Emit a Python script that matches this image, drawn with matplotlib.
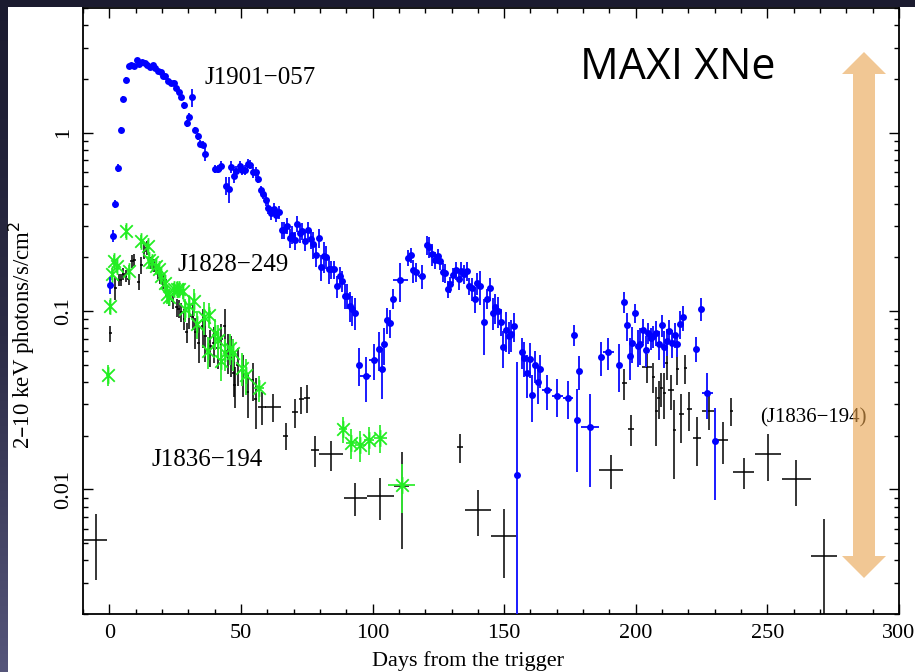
import numpy as np
import matplotlib
matplotlib.use("Agg")
import matplotlib.pyplot as plt
from matplotlib.path import Path
from matplotlib.patches import Rectangle, Polygon
from matplotlib.colors import LinearSegmentedColormap
from matplotlib.ticker import MultipleLocator, LogLocator, NullFormatter, FixedLocator, FixedFormatter

# ---------------- light-curve data (2-10 keV photons/s/cm^2) ----------------
# MAXI J1901-057
j1901_day = [0.3, 1.3, 2.3, 3.4, 4.4, 5.3, 6.3, 7.4, 8.4, 9.4, 10.4, 11.4, 12.4, 13.4, 14.5,
             15.5, 16.5, 17.5, 18.5, 19.5, 20.3, 21.3, 22.3, 23.3, 24.4, 25.4, 26.4, 27.4, 28.4,
             29.4, 30.4, 31.5, 32.5, 33.5, 34.5, 35.5, 36.5, 40.3, 41.4, 42.5, 44.4, 45.4, 46.4,
             47.4, 48.2, 49.5, 50.5, 51.5, 52.5, 53.5, 54.5, 55.6, 56.6, 57.6, 58.3, 59.4, 60.4,
             61.5, 62.4, 63.4, 64.4, 65.6, 66.5, 67.5, 68.5, 69.4, 70.4, 71.4, 72.3, 73.3, 74.3,
             75.5, 76.5, 77.4, 78.5, 79.5, 80.4, 81.4, 82.5, 83.4, 84.4, 85.3, 86.5, 87.5, 88.5,
             89.5, 90.4, 91.3, 92.3, 93.3, 94.9, 97.4, 100.6, 102.5, 103.6, 104.5, 105.5, 106.5,
             107.6, 110.6, 113.5, 114.5, 115.5, 116.6, 118.6, 120.6, 121.6, 122.6, 123.7, 124.7,
             125.6, 126.6, 127.6, 128.6, 129.6, 130.6, 131.7, 132.7, 133.7, 134.7, 135.7, 136.7,
             137.7, 138.8, 139.6, 140.7, 142.2, 143.6, 144.6, 145.6, 146.6, 147.6, 148.7, 149.7,
             150.7, 151.7, 152.7, 153.7, 155.0, 156.6, 157.7, 158.7, 159.7, 160.7, 161.7, 162.7,
             163.7, 166.2, 170.2, 174.2, 176.7, 177.7, 178.6, 182.6, 186.6, 189.6, 193.7, 195.7,
             196.7, 197.7, 198.7, 199.8, 200.7, 201.7, 202.7, 203.7, 204.7, 205.7, 206.7, 207.8,
             208.8, 209.8, 210.8, 211.8, 212.8, 213.9, 214.9, 215.8, 216.8, 217.8, 222.7, 224.8,
             227.2, 230.2]
j1901_flux = [0.14, 0.265, 0.40, 0.634, 1.04, 1.55, 1.98, 2.35, 2.40, 2.37, 2.56, 2.44, 2.50, 2.46, 2.40,
              2.33, 2.40, 2.30, 2.23, 2.18, 2.07, 2.08, 1.94, 1.91, 1.91, 1.78, 1.68, 1.58, 1.42,
              1.13, 1.23, 1.58, 1.03, 0.953, 0.867, 0.857, 0.762, 0.626, 0.626, 0.653, 0.505, 0.484, 0.642,
              0.574, 0.607, 0.653, 0.620, 0.620, 0.670, 0.662, 0.60, 0.60, 0.55, 0.475, 0.455, 0.418, 0.379,
              0.355, 0.374, 0.347, 0.358, 0.284, 0.284, 0.301, 0.257, 0.268, 0.249, 0.309, 0.272, 0.28, 0.246,
              0.284, 0.254, 0.236, 0.207, 0.257, 0.177, 0.203, 0.202, 0.172, 0.171, 0.171, 0.138, 0.157, 0.147,
              0.122, 0.122, 0.107, 0.102, 0.098, 0.050, 0.043, 0.053, 0.061, 0.047, 0.065, 0.0895, 0.086,
              0.117, 0.149, 0.199, 0.205, 0.169, 0.165, 0.157, 0.235, 0.229, 0.209, 0.193, 0.203,
              0.19, 0.166, 0.164, 0.133, 0.141, 0.159, 0.169, 0.151, 0.168, 0.162, 0.168, 0.138,
              0.134, 0.117, 0.143, 0.138, 0.0866, 0.117, 0.134, 0.098, 0.105, 0.100, 0.087, 0.0627,
              0.0787, 0.0722, 0.074, 0.0822, 0.012, 0.059, 0.0547, 0.0447, 0.054, 0.034, 0.0497, 0.040,
              0.047, 0.036, 0.0333, 0.0327, 0.0738, 0.0245, 0.046, 0.0223, 0.0551, 0.0588, 0.050, 0.113,
              0.083, 0.0558, 0.0664, 0.0977, 0.0635, 0.065, 0.078, 0.0603, 0.0755, 0.0708, 0.0722, 0.0755,
              0.065, 0.0832, 0.0627, 0.0677, 0.077, 0.0664, 0.0738, 0.065, 0.085, 0.0923, 0.0616, 0.103,
              0.0348, 0.0187]
j1901_err = [0.015, 0.02, 0.02, 0.03, 0.04, 0.05, 0.06, 0.06, 0.06, 0.06, 0.07, 0.07, 0.07, 0.07, 0.07,
             0.07, 0.07, 0.07, 0.07, 0.07, 0.06, 0.06, 0.06, 0.06, 0.06, 0.06, 0.06, 0.06, 0.06,
             0.05, 0.06, 0.18, 0.04, 0.04, 0.04, 0.04, 0.07, 0.03, 0.03, 0.04, 0.06, 0.08, 0.05,
             0.05, 0.04, 0.04, 0.04, 0.04, 0.04, 0.04, 0.04, 0.04, 0.03, 0.03, 0.03, 0.03, 0.03,
             0.03, 0.03, 0.03, 0.03, 0.03, 0.03, 0.03, 0.03, 0.03, 0.03, 0.03, 0.03, 0.03, 0.03,
             0.03, 0.03, 0.04, 0.03, 0.03, 0.03, 0.04, 0.03, 0.03, 0.02, 0.02, 0.02, 0.02, 0.02,
             0.02, 0.02, 0.02, 0.02, 0.02, 0.012, 0.012, 0.012, 0.015, 0.015, 0.015, 0.015, 0.015,
             0.015, 0.037, 0.02, 0.02, 0.025, 0.02, 0.025, 0.03, 0.03, 0.03, 0.02, 0.02,
             0.02, 0.02, 0.02, 0.015, 0.015, 0.015, 0.02, 0.02, 0.02, 0.02, 0.02, 0.015,
             0.02, 0.02, 0.02, 0.03, 0.03, 0.015, 0.02, 0.02, 0.02, 0.02, 0.015, 0.015,
             0.02, 0.015, 0.015, 0.015, 0.040, 0.012, 0.012, 0.012, 0.012, 0.01, 0.01, 0.01,
             0.01, 0.008, 0.008, 0.008, 0.01, 0.012, 0.01, 0.012, 0.012, 0.012, 0.015, 0.015,
             0.015, 0.015, 0.015, 0.012, 0.015, 0.015, 0.012, 0.012, 0.01, 0.01, 0.01, 0.012,
             0.012, 0.012, 0.015, 0.012, 0.012, 0.012, 0.012, 0.01, 0.015, 0.015, 0.01, 0.015,
             0.01, 0.01]
# half-widths of the longer time bins (days); all others are 0.5 d
j1901_binned = {97.4: 2.0, 100.6: 2.0, 110.6: 2.7, 118.6: 1.5, 166.2: 2.0, 170.2: 2.0,
                174.2: 2.0, 182.6: 3.5, 189.6: 2.0, 193.7: 1.0, 227.2: 2.0}

# MAXI J1828-249
j1828_day = [-0.6, 0.4, 1.0, 1.9, 2.8, 6.3, 7.4, 12.0, 14.6, 15.0, 16.2, 17.8, 18.8, 19.7, 21.0,
             21.8, 22.8, 24.4, 25.6, 26.6, 27.9, 28.9, 30.4, 32.0, 33.2, 36.1, 37.4, 38.0, 40.3,
             41.2, 42.5, 43.8, 45.7, 46.9, 50.5, 51.8, 56.8, 88.8, 92.0, 95.4, 98.6, 103.0, 111.0]
j1828_flux = [0.044, 0.106, 0.162, 0.19, 0.178, 0.28, 0.167, 0.246, 0.231, 0.193, 0.188, 0.178, 0.171,
              0.157, 0.144, 0.124, 0.12, 0.132, 0.133, 0.132, 0.129, 0.102, 0.106, 0.1135, 0.085, 0.093,
              0.0595, 0.0955, 0.0755, 0.069, 0.0523, 0.058, 0.062, 0.058, 0.048, 0.044, 0.037, 0.0219,
              0.0183, 0.0177, 0.019, 0.0195, 0.0106]
j1828_err = [0.006, 0.01, 0.012, 0.015, 0.015, 0.025, 0.015, 0.02, 0.02, 0.02, 0.015, 0.015, 0.015,
             0.015, 0.015, 0.015, 0.012, 0.012, 0.012, 0.012, 0.012, 0.015, 0.015, 0.02, 0.015, 0.02,
             0.012, 0.015, 0.015, 0.015, 0.012, 0.012, 0.012, 0.012, 0.01, 0.01, 0.006, 0.0037,
             0.0035, 0.0035, 0.0035, 0.0035, 0.0032]
j1828_binned = {56.8: 2.0, 88.8: 1.5, 92.0: 2.0, 95.4: 2.0, 98.6: 2.0, 103.0: 2.5, 111.0: 5.0}

# MAXI J1836-194
j1836_day = [-5.2, 0.4, 2.3, 3.5, 4.4, 5.3, 6.3, 7.4, 8.6, 9.5, 11.2, 12.1, 13.3, 14.2, 15.9, 17.1,
             18.4, 19.3, 20.5, 21.6, 22.8, 24.1, 25.6, 26.4, 27.3, 28.5, 29.4, 30.4, 31.7, 32.7, 34.0,
             35.5, 36.5, 38.3, 39.6, 41.2, 42.5, 43.8, 45.0, 46.3, 47.2, 47.6, 48.8, 50.7, 52.6, 54.5,
             55.6, 58.1, 62.1, 67.0, 70.5, 72.9, 75.1, 78.0, 84.3, 93.5, 103.0, 111.0, 133.2, 140.1,
             150.0, 190.6, 195.7, 198.2, 204.2, 206.7, 207.8, 208.7, 209.7, 210.8, 211.7, 213.4,
             214.7, 215.8, 217.3, 218.8, 220.3, 223.2, 227.8, 233.0, 236.3, 241.0, 250.3, 261.0,
             271.4]
j1836_flux = [0.0052, 0.0748, 0.135, 0.15, 0.15, 0.162, 0.157, 0.151, 0.19, 0.194, 0.146, 0.182, 0.216,
              0.226, 0.186, 0.18, 0.167, 0.157, 0.147, 0.136, 0.119, 0.114, 0.105, 0.103, 0.0986, 0.0902,
              0.0761, 0.094, 0.093, 0.076, 0.066, 0.082, 0.072, 0.0635, 0.066, 0.062, 0.0699, 0.082,
              0.0595, 0.0577, 0.045, 0.0385, 0.05, 0.045, 0.035, 0.0412, 0.0319, 0.029, 0.029, 0.020,
              0.0271, 0.0319, 0.0327, 0.0166, 0.0157, 0.00898, 0.00917, 0.0104, 0.0173, 0.0077,
              0.0055, 0.0128, 0.0396, 0.0218, 0.0487, 0.0428, 0.0275, 0.0327, 0.037, 0.0349, 0.0508,
              0.0359, 0.0215, 0.0474, 0.0263, 0.048, 0.0283, 0.0195, 0.0275, 0.0189, 0.0276, 0.0125,
              0.0158, 0.0114, 0.00423]
j1836_err = [0.0021, 0.008, 0.02, 0.012, 0.012, 0.012, 0.012, 0.012, 0.015, 0.015, 0.015, 0.02, 0.02,
             0.02, 0.015, 0.015, 0.015, 0.015, 0.015, 0.015, 0.012, 0.012, 0.012, 0.012, 0.012, 0.012,
             0.01, 0.015, 0.015, 0.015, 0.015, 0.02, 0.02, 0.015, 0.015, 0.015, 0.015, 0.02,
             0.015, 0.015, 0.012, 0.01, 0.012, 0.012, 0.01, 0.01, 0.01, 0.006, 0.0052, 0.0034,
             0.005, 0.0055, 0.006, 0.0033, 0.003, 0.0019, 0.0024, 0.0058, 0.0032, 0.0022,
             0.0023, 0.0027, 0.0078, 0.0043, 0.009, 0.008, 0.01, 0.008, 0.008, 0.01, 0.01,
             0.008, 0.01, 0.009, 0.008, 0.009, 0.007, 0.006, 0.006, 0.005, 0.005, 0.0024,
             0.0046, 0.0033, 0.0026]
j1836_binned = {-5.2: 4.5, 58.1: 1.5, 62.1: 3.0, 67.0: 1.0, 70.5: 1.0, 72.9: 1.0, 75.1: 1.0,
                78.0: 1.5, 84.3: 4.5, 93.5: 4.4, 103.0: 5.0, 111.0: 3.0, 133.2: 1.0, 140.1: 5.0,
                150.0: 5.0, 190.6: 4.5, 195.7: 1.0, 198.2: 1.3, 204.2: 2.0, 213.4: 1.0, 217.3: 1.0,
                220.3: 1.0, 223.2: 1.5, 227.8: 2.5, 233.0: 2.0, 241.0: 4.0, 250.3: 5.0, 261.0: 5.5,
                271.4: 5.0}

source_names = ["J1901\u2212057", "J1828\u2212249", "J1836\u2212194"]

j1901_dx = [j1901_binned.get(d, 0.5) for d in j1901_day]
j1828_dx = [j1828_binned.get(d, 0.5) for d in j1828_day]
j1836_dx = [j1836_binned.get(d, 0.6) for d in j1836_day]

# ---------------- figure ----------------
W, H = 915, 672
fig = plt.figure(figsize=(W / 100, H / 100), dpi=100, facecolor="#1b1b2f")

# dark frame: gradient strip on the left, white page behind the plot
edge = fig.add_axes([0, 0, 8 / W, 1])
edge.imshow(np.linspace(0, 1, 256).reshape(-1, 1), aspect="auto", origin="upper",
            extent=[0, 1, 0, 1],
            cmap=LinearSegmentedColormap.from_list("edge", ["#1b1b2f", "#2c2c46", "#55557a"]))
edge.axis("off")
fig.add_artist(Rectangle((8 / W, 0), 1 - 8 / W, 1 - 7 / H, transform=fig.transFigure,
                         facecolor="white", edgecolor="none", zorder=0))

ax = fig.add_axes([83 / W, 58 / H, 816 / W, 606 / H])
ax.set_facecolor("white")
ax.set_zorder(1)

serif = ["Liberation Serif", "DejaVu Serif"]

# asterisk marker: vertical bar plus two diagonals
star = Path([(0, -1), (0, 1), (-0.75, -0.75), (0.75, 0.75), (-0.75, 0.75), (0.75, -0.75)],
            [Path.MOVETO, Path.LINETO] * 3)

ax.errorbar(j1836_day, j1836_flux, yerr=j1836_err, xerr=j1836_dx, fmt="none",
            ecolor="black", elinewidth=1.1, capsize=0, zorder=2)
ax.errorbar(j1828_day, j1828_flux, yerr=j1828_err, xerr=j1828_dx, fmt="none",
            ecolor="#33ee33", elinewidth=1.3, capsize=0, zorder=3)
ax.plot(j1828_day, j1828_flux, linestyle="none", marker=star, markersize=12,
        markeredgecolor="#22ee22", markerfacecolor="none", markeredgewidth=1.3, zorder=3)
ax.errorbar(j1901_day, j1901_flux, yerr=j1901_err, xerr=j1901_dx, fmt="o",
            color="#0000ff", ecolor="#1a1aff", elinewidth=1.4, capsize=0,
            markersize=5, markeredgewidth=0, zorder=4)

ax.set_yscale("log")
ax.set_xlim(-10, 300)
ax.set_ylim(0.002, 5)

ax.xaxis.set_major_locator(MultipleLocator(50))
ax.xaxis.set_minor_locator(MultipleLocator(10))
ax.yaxis.set_major_locator(FixedLocator([0.01, 0.1, 1]))
ax.yaxis.set_major_formatter(FixedFormatter(["0.01", "0.1", "1"]))
ax.yaxis.set_minor_locator(LogLocator(base=10, subs=np.arange(2, 10), numticks=20))
ax.yaxis.set_minor_formatter(NullFormatter())

ax.tick_params(which="both", direction="in", top=True, right=True, width=1.0, color="black")
ax.tick_params(which="major", length=7.5)
ax.tick_params(which="minor", length=3.8)
ax.tick_params(axis="x", which="major", pad=7, labelsize=16)
ax.tick_params(axis="y", which="major", pad=7, labelsize=16, labelrotation=90)
for lab in ax.get_xticklabels() + ax.get_yticklabels():
    lab.set_fontfamily(serif)
for lab in ax.get_yticklabels():
    lab.set_verticalalignment("center")
for sp in ax.spines.values():
    sp.set_linewidth(1.3)

ax.set_xlabel("Days from the trigger", fontsize=16, family=serif)
ax.xaxis.set_label_coords(0.472, -0.061)
ax.set_ylabel("2\u201310 keV photons/s/cm$^2$", fontsize=16.5, family=serif)
ax.yaxis.set_label_coords(-0.056, 0.46)

ax.text(36, 2.03, source_names[0], fontsize=18, family=serif, ha="left", va="center")
ax.text(25.9, 0.18, source_names[1], fontsize=18, family=serif, ha="left", va="center")
ax.text(16, 0.0147, source_names[2], fontsize=18, family=serif, ha="left", va="center")
ax.text(247.3, 0.0253, "(" + source_names[2] + ")", fontsize=15, family=serif,
        ha="left", va="center")
ax.text(178.8, 2.31, "MAXI XNe", fontsize=31, family=["Open Sans", "DejaVu Sans"],
        ha="left", va="center")

# double-headed arrow on the right
px = [(864, 52), (886, 74), (875, 74), (875, 556), (886, 556), (864, 578),
      (842, 556), (853, 556), (853, 74), (842, 74)]
fig.add_artist(Polygon([(x / W, 1 - y / H) for x, y in px], closed=True,
                       transform=fig.transFigure, facecolor="#e9a34d", alpha=0.6,
                       edgecolor="none", zorder=5))

fig.savefig("out.png", dpi=100, facecolor=fig.get_facecolor())
